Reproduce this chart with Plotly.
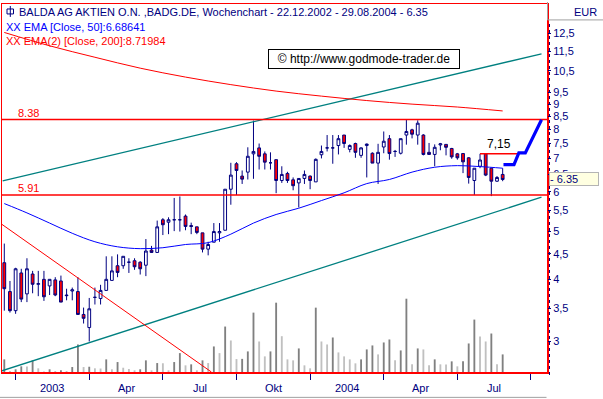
import math
import pandas as pd
import plotly.graph_objects as go

# ---------------- data ----------------
dates = pd.date_range("2002-12-22", periods=89, freq="7D")

opens = [4.32, 3.78, 3.46, 4.12, 3.74, 4.10, 3.91, 4.00, 3.88, 3.99,
         3.97, 3.72, 3.79, 3.78, 3.40, 3.20, 3.68, 3.66, 3.80, 3.98,
         4.26, 4.26, 4.33, 4.36, 4.33, 4.27, 4.58, 4.53, 5.27, 5.21,
         5.27, 5.27, 5.36, 5.13, 5.10, 4.96, 4.60, 4.75, 4.96, 5.02,
         6.07, 6.83, 6.45, 6.57, 7.15, 7.35, 7.15, 6.86, 6.96, 6.32,
         6.53, 6.34, 6.25, 6.38, 6.45, 6.28, 7.12, 7.35, 7.35, 7.43,
         7.80, 7.30, 7.50, 7.10, 7.43, 7.17, 6.85, 7.38, 7.67, 7.23,
         7.17, 7.80, 7.99, 7.80, 7.80, 7.20, 7.13, 7.45, 7.47, 7.33,
         7.15, 7.16, 7.02, 6.32, 6.75, 7.15, 6.69, 6.30, 6.50]
highs = [4.72, 3.97, 4.22, 4.20, 4.41, 4.16, 4.16, 4.16, 4.00, 4.04,
         4.07, 3.83, 3.85, 4.04, 3.51, 3.67, 3.85, 3.90, 4.45, 4.45,
         4.49, 4.45, 4.41, 4.41, 4.35, 4.82, 4.67, 5.25, 5.31, 5.33,
         5.83, 5.87, 5.40, 5.20, 5.10, 4.96, 4.76, 5.19, 5.19, 6.07,
         6.86, 6.88, 6.62, 7.37, 8.34, 7.50, 7.23, 7.20, 6.96, 6.75,
         6.58, 6.41, 6.38, 6.62, 6.47, 7.00, 7.43, 7.80, 7.80, 7.80,
         7.80, 7.47, 7.53, 7.37, 7.50, 7.20, 7.49, 7.93, 7.80, 7.28,
         7.67, 8.40, 8.03, 8.35, 7.83, 7.52, 7.47, 7.52, 7.47, 7.35,
         7.18, 7.16, 7.04, 6.69, 7.15, 7.15, 6.69, 6.45, 6.69]
lows = [3.46, 3.43, 3.41, 3.60, 3.60, 3.75, 3.70, 3.62, 3.72, 3.70,
        3.60, 3.63, 3.63, 3.40, 3.26, 3.00, 3.56, 3.56, 3.80, 3.98,
        4.04, 4.20, 4.12, 4.18, 4.09, 4.06, 4.52, 4.52, 4.91, 4.93,
        5.00, 4.99, 5.02, 4.93, 4.93, 4.53, 4.47, 4.75, 4.76, 5.02,
        5.65, 5.91, 6.22, 6.35, 6.37, 6.65, 6.65, 6.65, 5.96, 6.25,
        6.25, 6.04, 5.58, 6.22, 6.07, 6.28, 7.00, 7.23, 6.83, 7.13,
        7.35, 7.20, 7.02, 7.02, 6.41, 6.85, 6.22, 7.17, 6.96, 7.05,
        7.13, 7.46, 7.68, 7.46, 7.10, 7.13, 6.75, 7.27, 7.10, 6.99,
        6.96, 6.54, 6.23, 5.91, 6.69, 6.45, 5.88, 6.28, 6.30]
closes = [3.83, 3.46, 4.20, 3.65, 4.20, 3.91, 3.92, 3.69, 4.00, 3.72,
          3.60, 3.71, 3.81, 3.40, 3.34, 3.49, 3.68, 3.80, 4.00, 4.16,
          4.13, 4.45, 4.33, 4.24, 4.20, 4.56, 4.53, 5.10, 5.15, 5.27,
          5.27, 5.27, 5.11, 5.11, 4.97, 4.60, 4.70, 4.99, 4.99, 6.07,
          6.48, 6.62, 6.36, 7.07, 7.23, 7.07, 6.88, 6.86, 6.32, 6.50,
          6.32, 6.17, 6.38, 6.50, 6.32, 6.97, 7.23, 7.35, 7.35, 7.67,
          7.50, 7.43, 7.20, 7.35, 7.48, 6.85, 7.20, 7.58, 7.16, 7.23,
          7.67, 7.93, 7.83, 8.24, 7.13, 7.13, 7.37, 7.49, 7.37, 7.05,
          7.02, 6.89, 6.41, 6.69, 6.95, 6.48, 6.30, 6.41, 6.35]
volume = [127, 10, 27, 57, 55, 117, 37, 5, 27, 10,
          17, 10, 50, 277, 50, 53, 37, 35, 127, 27,
          100, 43, 30, 17, 27, 117, 17, 90, 88, 17,
          100, 190, 67, 77, 17, 117, 90, 257, 190, 457,
          317, 130, 132, 207, 597, 307, 157, 207, 697, 360,
          127, 117, 237, 67, 37, 647, 307, 277, 347, 197,
          157, 127, 87, 127, 227, 267, 177, 297, 327, 117,
          217, 737, 77, 237, 227, 67, 127, 77, 75, 107,
          57, 107, 287, 527, 357, 307, 387, 77, 177]

# EMA values read at selected candles (candle numbers, 1-based)
ema50_idx = [1, 5, 9, 13, 17, 21, 25, 29, 33, 37, 41, 45, 49, 53, 57, 61,
             65, 69, 73, 77, 81, 85, 89]
ema50_val = [5.68, 5.44, 5.19, 4.95, 4.76, 4.65, 4.61, 4.63, 4.70, 4.74,
             4.93, 5.19, 5.40, 5.56, 5.76, 5.97, 6.23, 6.35, 6.57, 6.72,
             6.77, 6.74, 6.69]
ema200_idx = [1, 9, 17, 25, 33, 41, 49, 57, 65, 73, 81, 89]
ema200_val = [12.54, 11.79, 11.18, 10.63, 10.20, 9.85, 9.56, 9.34, 9.15,
              9.00, 8.88, 8.72]

levels = [8.38, 5.91]
level_labels = ["8.38", "5.91"]

down_x = ["2002-12-19", "2003-09-04"]
down_y = [5.16, 2.605]
chan_low_x = ["2002-12-19", "2004-10-16"]
chan_low_y = [2.62, 5.85]
chan_up_x = ["2002-12-20", "2004-10-16"]
chan_up_y = [6.31, 11.36]
proj_x = ["2004-08-30", "2004-09-12", "2004-09-18", "2004-09-26", "2004-10-16"]
proj_y = [6.80, 6.80, 7.18, 7.18, 8.37]
target_x = ["2004-08-01", "2004-09-17"]
target_y = [7.15, 7.15]
target_label = "7,15"
last_price = 6.35

tick_dates = ["2003-01-05", "2003-04-06", "2003-07-06", "2003-10-05",
              "2004-01-04", "2004-04-04", "2004-07-04", "2004-10-03"]
tick_labels = ["2003", "Apr", "Jul", "Okt", "2004", "Apr", "Jul"]
price_ticks = [3, 3.5, 4, 4.5, 5, 5.5, 6, 6.5, 7, 7.5, 8, 8.5, 9, 9.5,
               10.5, 11.5, 12.5]

x_range = ["2002-12-19 04:00", "2004-10-22 19:00"]
y_log_range = [0.4158, 1.1555]

title_text = "BALDA AG AKTIEN O.N. ,BADG.DE, Wochenchart - 22.12.2002 - 29.08.2004 - 6.35"
ema50_text = "XX EMA [Close, 50]:6.68641"
ema200_text = "XX EMA(2) [Close, 200]:8.71984"
copyright_text = "© http://www.godmode-trader.de"

# ---------------- styling ----------------
NAVY = "#000080"
RED = "#ff0000"
TEAL = "#008080"
BLUE = "#0000ff"
FONT = "Liberation Sans"

W_FIG, H_FIG = 603, 399
L, T, R, B = 2, 2, 56, 27
PW, PH = W_FIG - L - R, H_FIG - T - B


def px(xp):
    return (xp - L) / PW


def py(yp):
    return (T + PH - yp) / PH


vol_colors = ["#808080"]
for i in range(1, len(volume)):
    vol_colors.append("#808080" if volume[i] > volume[i - 1] else "#c0c0c0")

fig = go.Figure()

# volume (linear, hidden axis y)
fig.add_trace(go.Bar(x=dates, y=volume, marker=dict(color=vol_colors, line=dict(width=0)),
                     width=2.3 * 86400000, yaxis="y", hoverinfo="skip"))

# channel / trend lines
fig.add_trace(go.Scatter(x=chan_low_x, y=chan_low_y, mode="lines", yaxis="y2",
                         line=dict(color=TEAL, width=1.3)))
fig.add_trace(go.Scatter(x=chan_up_x, y=chan_up_y, mode="lines", yaxis="y2",
                         line=dict(color=TEAL, width=1.3)))
fig.add_trace(go.Scatter(x=down_x, y=down_y, mode="lines", yaxis="y2",
                         line=dict(color=RED, width=1)))
for lv in levels:
    fig.add_trace(go.Scatter(x=x_range, y=[lv, lv], mode="lines", yaxis="y2",
                             line=dict(color=RED, width=1.5)))

# EMAs
fig.add_trace(go.Scatter(x=[dates[i - 1] for i in ema200_idx], y=ema200_val, mode="lines",
                         yaxis="y2", line=dict(color=RED, width=1, shape="spline")))
fig.add_trace(go.Scatter(x=[dates[i - 1] for i in ema50_idx], y=ema50_val, mode="lines",
                         yaxis="y2", line=dict(color=BLUE, width=1, shape="spline")))

# target line and projection
fig.add_trace(go.Scatter(x=target_x, y=target_y, mode="lines", yaxis="y2",
                         line=dict(color=RED, width=1.5)))
fig.add_trace(go.Scatter(x=proj_x, y=proj_y, mode="lines", yaxis="y2",
                         line=dict(color=BLUE, width=3.2)))

# candles
fig.add_trace(go.Candlestick(
    x=dates, open=opens, high=highs, low=lows, close=closes, yaxis="y2",
    increasing=dict(line=dict(color=NAVY, width=1), fillcolor="#ffffff"),
    decreasing=dict(line=dict(color=NAVY, width=1), fillcolor=RED),
    whiskerwidth=0, hoverinfo="skip"))

annotations = []
annotations.append(dict(x=px(17), y=py(10.5), xref="paper", yref="paper", text=title_text,
                        showarrow=False, xanchor="left", yanchor="middle",
                        font=dict(family=FONT, size=11, color=NAVY)))
annotations.append(dict(x=px(3.5), y=py(25), xref="paper", yref="paper", text=ema50_text,
                        showarrow=False, xanchor="left", yanchor="middle",
                        font=dict(family=FONT, size=11, color=BLUE)))
annotations.append(dict(x=px(3.5), y=py(39.5), xref="paper", yref="paper", text=ema200_text,
                        showarrow=False, xanchor="left", yanchor="middle",
                        font=dict(family=FONT, size=11, color=RED)))
annotations.append(dict(x=px(364), y=py(57.5), xref="paper", yref="paper", text=copyright_text,
                        showarrow=False, xanchor="center", yanchor="middle",
                        bgcolor="#ffffff", bordercolor="#000000", borderwidth=1, borderpad=2,
                        width=186, font=dict(family=FONT, size=12, color="#000000")))
for lv, lab in zip(levels, level_labels):
    annotations.append(dict(x=px(16), y=math.log10(lv), xref="paper", yref="y2", text=lab,
                            showarrow=False, xanchor="left", yanchor="bottom", yshift=-1,
                            font=dict(family=FONT, size=11, color=RED)))
t0 = pd.Timestamp(target_x[0]); t1 = pd.Timestamp(target_x[1])
annotations.append(dict(x=t0 + (t1 - t0) * 0.5, y=math.log10(target_y[0]), xref="x", yref="y2",
                        text=target_label, showarrow=False, xanchor="center", yanchor="bottom",
                        yshift=1, font=dict(family=FONT, size=12, color="#000000")))
for i, lab in enumerate(tick_labels):
    a = pd.Timestamp(tick_dates[i]); b = pd.Timestamp(tick_dates[i + 1])
    annotations.append(dict(x=a + (b - a) * 0.5, y=py(388), xref="x", yref="paper", text=lab,
                            showarrow=False, xanchor="center", yanchor="middle",
                            font=dict(family=FONT, size=11, color=NAVY)))
annotations.append(dict(x=px(599), y=py(10), xref="paper", yref="paper", text="EUR",
                        showarrow=False, xanchor="right", yanchor="middle",
                        font=dict(family=FONT, size=11, color=NAVY)))
annotations.append(dict(x=px(548.5), y=math.log10(last_price), xref="paper", yref="y2",
                        text="- " + f"{last_price:.2f}", showarrow=False, xanchor="left",
                        yanchor="middle", align="left", width=48, borderpad=0,
                        bgcolor="#ffffe1", bordercolor="#b4b4b4", borderwidth=1,
                        font=dict(family=FONT, size=11, color=NAVY)))

shapes = [
    # small candle icon before the title
    dict(type="rect", xref="paper", yref="paper", x0=px(7), x1=px(13.5), y0=py(12), y1=py(7),
         line=dict(color=NAVY, width=1)),
    dict(type="line", xref="paper", yref="paper", x0=px(10.3), x1=px(10.3), y0=py(15), y1=py(4),
         line=dict(color=NAVY, width=1)),
    # dotted price-axis spine
    dict(type="line", xref="paper", yref="paper", x0=px(549.5), x1=px(549.5), y0=py(375),
         y1=py(21), line=dict(color=NAVY, width=1, dash="dot")),
    # EUR header frame
    dict(type="line", xref="paper", yref="paper", x0=px(547.5), x1=px(547.5), y0=py(18),
         y1=py(0), line=dict(color="#a0a0a0", width=1)),
    dict(type="line", xref="paper", yref="paper", x0=px(547.5), x1=px(603), y0=py(18),
         y1=py(18), line=dict(color="#a0a0a0", width=1)),
    # bottom frame of date axis
    dict(type="line", xref="paper", yref="paper", x0=px(0), x1=px(546.5), y0=py(397.5),
         y1=py(397.5), line=dict(color="#a0a0a0", width=1)),
]

fig.update_layout(
    width=W_FIG, height=H_FIG,
    margin=dict(l=L, r=R, t=T, b=B, pad=0),
    paper_bgcolor="#ffffff", plot_bgcolor="#ffffff",
    showlegend=False, hovermode=False,
    boxgap=0.3, boxgroupgap=0.3,
    xaxis=dict(type="date", range=x_range, showgrid=False, zeroline=False,
               showline=True, linecolor=RED, linewidth=1.5, mirror=True,
               tickvals=tick_dates, showticklabels=False, ticks="outside",
               ticklen=6, tickcolor=NAVY, tickwidth=1,
               rangeslider=dict(visible=False), fixedrange=True),
    yaxis=dict(range=[0, 3700], showgrid=False, zeroline=False, showticklabels=False,
               ticks="", showline=True, linecolor=RED, linewidth=1.5, mirror=True,
               fixedrange=True),
    yaxis2=dict(type="log", range=y_log_range, overlaying="y", side="right", anchor="x",
                showgrid=False, zeroline=False, showline=False,
                tickvals=price_ticks,
                ticktext=[f"{v:g}".replace(".", ",") for v in price_ticks],
                ticks="outside", ticklen=3, tickcolor=NAVY, tickwidth=1,
                tickfont=dict(family=FONT, size=11, color=NAVY), fixedrange=True),
    annotations=annotations,
    shapes=shapes,
)

fig.write_html("out.html", config={"displayModeBar": False, "staticPlot": True},
               post_script="document.body.style.margin='0px';document.body.style.padding='0px';")
